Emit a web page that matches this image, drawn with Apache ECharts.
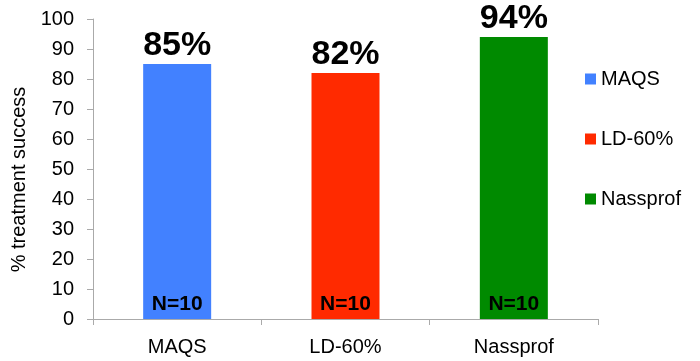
<!DOCTYPE html>
<html>
<head>
<meta charset="utf-8">
<script src="https://cdn.jsdelivr.net/npm/echarts@6/dist/echarts.min.js"></script>
<style>
html,body{margin:0;padding:0;background:#fff;}
#chart{width:700px;height:361px;}
</style>
</head>
<body>
<div id="chart"></div>
<script>
var categories = ['MAQS', 'LD-60%', 'Nassprof'];
var successPct = [85, 82, 94];
var sampleN = [10, 10, 10];
var colors = ['#4281FF', '#FF2A00', '#008A00'];

var myChart = echarts.init(document.getElementById('chart'));

var series = [];
for (var i = 0; i < categories.length; i++) {
	var d = categories.map(function(c, j){ return j === i ? successPct[i] : '-'; });
	series.push({
		name: categories[i],
		type: 'bar',
		data: d,
		barWidth: 68,
		barGap: '-100%',
		itemStyle: { color: colors[i] },
		label: {
			show: true,
			position: 'top',
			distance: 1,
			formatter: '{c}%',
			color: '#000',
			fontSize: 34,
			fontWeight: 'bold',
			fontFamily: 'Liberation Sans'
		}
	});
}
// N labels at the bottom of each bar
series.push({
	name: 'N',
	type: 'bar',
	data: successPct,
	barWidth: 68,
	barGap: '-100%',
	itemStyle: { color: 'transparent' },
	silent: true,
	label: {
		show: true,
		position: 'insideBottom',
		distance: 4,
		formatter: function(p){ return 'N=' + sampleN[p.dataIndex]; },
		color: '#000',
		fontSize: 21,
		fontWeight: 'bold',
		fontFamily: 'Liberation Sans'
	}
});

option = {
	backgroundColor: '#fff',
	animation: false,
	textStyle: { fontFamily: 'Liberation Sans' },
	grid: { left: 93, top: 19, width: 505, height: 300, containLabel: false },
	legend: {
		data: categories,
		orient: 'vertical',
		left: 580,
		top: 64,
		itemGap: 40,
		itemWidth: 11,
		itemHeight: 11,
		icon: 'rect',
		textStyle: { fontSize: 20, color: '#000', fontFamily: 'Liberation Sans' }
	},
	xAxis: {
		type: 'category',
		data: categories,
		axisLine: { lineStyle: { color: '#AAAAAA', width: 1 } },
		axisTick: { show: true, interval: 0, length: 6, lineStyle: { color: '#AAAAAA' } },
		axisLabel: { color: '#000', fontSize: 20, margin: 18 }
	},
	yAxis: {
		type: 'value',
		min: 0,
		max: 100,
		interval: 10,
		name: '% treatment success',
		nameLocation: 'middle',
		nameGap: 60,
		nameRotate: 90,
		nameTextStyle: { color: '#000', fontSize: 20, padding: [0, 21, 0, 0] },
		splitLine: { show: false },
		axisLine: { show: true, lineStyle: { color: '#AAAAAA', width: 1 } },
		axisTick: { show: true, length: 6, lineStyle: { color: '#AAAAAA' } },
		axisLabel: { color: '#000', fontSize: 20, margin: 19 }
	},
	series: series
};

myChart.setOption(option);
</script>
</body>
</html>
